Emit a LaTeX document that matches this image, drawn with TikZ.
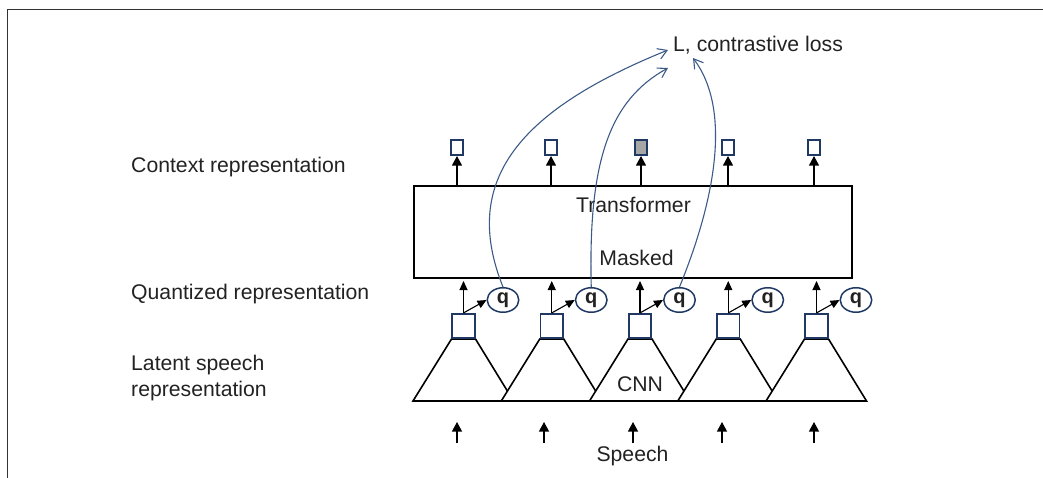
\documentclass[tikz,border=0pt]{standalone}
\usepackage{fontspec}
\setmainfont{Liberation Sans}
\usetikzlibrary{arrows.meta,shapes.geometric}
\definecolor{navy}{HTML}{1F3864}
\definecolor{curvec}{HTML}{3C5A88}
\definecolor{txt}{HTML}{222222}
\definecolor{framec}{HTML}{333333}
\definecolor{maskfill}{HTML}{A6A6A6}
\begin{document}
\begin{tikzpicture}[x=1pt,y=-1pt,
  lbl/.style={font=\fontsize{21.2}{26}\selectfont, text=txt, inner sep=0pt},
  ctxbox/.style={draw=navy, line width=1.6pt, fill=white, inner sep=0pt, minimum width=11.5pt, minimum height=15.5pt},
  latbox/.style={draw=navy, line width=1.6pt, fill=white, inner sep=0pt, minimum width=22.5pt, minimum height=24.5pt},
  qnode/.style={ellipse, draw=navy, line width=1.5pt, inner sep=0pt, minimum width=31.5pt, minimum height=24.5pt, font=\fontsize{20}{24}\selectfont\bfseries, text=txt},
  tri/.style={draw=black, line width=1.6pt, fill=white, line join=miter},
  blk/.style={draw=black, line width=1.1pt, -{Triangle[length=9pt,width=8pt]}},
  blkbig/.style={draw=black, line width=1.1pt, -{Triangle[length=9.5pt,width=10pt]}},
  crv/.style={draw=curvec, line width=1.1pt, -{Straight Barb[length=9pt,width=11pt]}}
]
\useasboundingbox (0,0) rectangle (1043,478);
\draw[framec, line width=1.6pt] (7.5,478) -- (7.5,9.5) -- (1043,9.5);

% left labels
\node[lbl, anchor=base west] (lctx) at (131,173) {Context representation};
\node[lbl, anchor=base west] (lq) at (131,299) {Quantized representation};
\node[lbl, anchor=north west, align=left] (llat) at (131,355) {Latent speech\\representation};

% loss
\node[lbl, anchor=base west] (L) at (673,52) {L, contrastive loss};

% transformer
\node[draw=black, line width=1.8pt, minimum width=438pt, minimum height=92pt, inner sep=0pt] (tr) at (633,232) {};
\node[lbl, anchor=base] (trt) at (633.5,213) {Transformer};
\node[lbl, anchor=base] (msk) at (636.5,265.5) {Masked};

% CNN triangles
\foreach \x in {463.5,551.75,640,728.25,816.5}{
  \draw[tri] (\x-50.5,401) -- (\x-12,339) -- (\x+12,339) -- (\x+50,401) -- cycle;
}
\node[lbl, anchor=base] (cnn) at (640,391) {CNN};

% latent squares, q nodes, arrows
\foreach \i/\x in {1/463.5,2/551.75,3/640,4/728.25,5/816.5}{
  \node[latbox] (s\i) at (\x,326) {};
  \node[qnode] (q\i) at (\x+39.5,300) {q};
  \coordinate (t\i) at (\x,281);
  \draw[blk] (s\i.north) -- (t\i);
  \draw[blk] (s\i.north) -- (q\i.west);
}

% context squares
\foreach \i/\x in {1/457,2/551,3/641,4/728,5/814}{
  \coordinate (cb\i) at (\x,185);
  \node[ctxbox] (c\i) at (\x,147.5) {};
  \draw[blkbig] (cb\i) -- (c\i.south);
}
\node[ctxbox, fill=maskfill] (c3) at (641,147.5) {};

% speech arrows
\node[lbl, anchor=base] (sp) at (632.5,461.5) {Speech};
\foreach \i/\x in {1/457,2/544,3/633,4/722,5/814}{
  \coordinate (sa\i) at (\x,443);
  \coordinate (sb\i) at (\x,422);
  \draw[blkbig] (sa\i) -- (sb\i);
}

% contrastive curves
\coordinate (e1) at (668,50);
\coordinate (e2) at (668,68);
\coordinate (e3) at (693,58);
\draw[crv] (q1.north) .. controls (460,180) and (520,110) .. (e1);
\draw[crv] (q2.north) .. controls (588,160) and (610,100) .. (e2);
\draw[crv] (q3.north) .. controls (715,200) and (732,110) .. (e3);
\end{tikzpicture}
\end{document}
